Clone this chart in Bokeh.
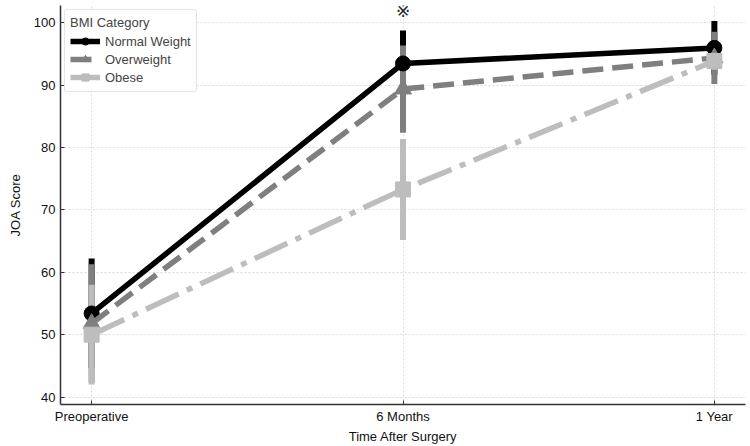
from bokeh.plotting import figure
from bokeh.models import ColumnDataSource, Legend, LegendItem, Range1d, FixedTicker
from bokeh.core.properties import value
from bokeh.embed import file_html
from bokeh.resources import INLINE

timepoints = ["Preoperative", "6 Months", "1 Year"]
x_pos = [0, 1, 2]
normal_mean = [53.4, 93.5, 96.0]
normal_sd = [8.8, 5.3, 4.3]
over_mean = [51.8, 89.4, 94.4]
over_sd = [9.5, 7.0, 4.2]
obese_mean = [50.0, 73.3, 93.9]
obese_sd = [8.0, 8.1, 1.4]
y_ticks = [40, 50, 60, 70, 80, 90, 100]
sig_label = "※"
sig_x = 1
sig_y = 101.9

FONT = "Liberation Sans"

p = figure(width=750, height=446, output_backend="svg", toolbar_location=None,
           x_range=Range1d(-0.1, 2.1), y_range=Range1d(38.8, 102.8),
           min_border_left=60, min_border_right=5, min_border_top=5, min_border_bottom=20)
p.outline_line_color = None
p.background_fill_color = "white"

for ax in (p.xaxis[0], p.yaxis[0]):
    ax.axis_line_color = "#333333"
    ax.axis_line_width = 1.5
    ax.major_tick_line_color = "#333333"
    ax.major_tick_in = 4
    ax.major_tick_out = 0
    ax.minor_tick_line_color = None
    ax.major_label_text_font = FONT
    ax.major_label_text_font_size = "13px"
    ax.major_label_text_color = "#111111"
    ax.axis_label_text_font = FONT
    ax.axis_label_text_font_size = "13px"
    ax.axis_label_text_font_style = "normal"
    ax.axis_label_text_color = "#111111"

p.xaxis.ticker = FixedTicker(ticks=x_pos)
p.xaxis.major_label_overrides = {x: t for x, t in zip(x_pos, timepoints)}
p.xaxis.axis_label = "Time After Surgery"
p.xaxis.major_label_standoff = 4
p.xaxis.axis_label_standoff = 2
p.yaxis.ticker = FixedTicker(ticks=y_ticks)
p.yaxis.axis_label = "JOA Score"
p.yaxis.axis_label_standoff = 8

p.xgrid.ticker = FixedTicker(ticks=x_pos)
for g in (p.xgrid[0], p.ygrid[0]):
    g.grid_line_color = "#dddddd"
    g.grid_line_dash = "2 2"
    g.grid_line_width = 1

series = [
    ("Normal Weight", normal_mean, normal_sd, "#000000", "solid", "circle", 15),
    ("Overweight", over_mean, over_sd, "#7f7f7f", "21 9", "triangle", 17),
    ("Obese", obese_mean, obese_sd, "#bdbdbd", "36 9 6 9", "square", 15),
]

# error bars first (below all lines)
for name, m, s, col, dash, marker, msize in series:
    src = ColumnDataSource(dict(x=x_pos, lo=[a - b for a, b in zip(m, s)], hi=[a + b for a, b in zip(m, s)]))
    p.segment(x0="x", y0="lo", x1="x", y1="hi", source=src, line_color=col, line_width=6)

items = []
for name, m, s, col, dash, marker, msize in series:
    src = ColumnDataSource(dict(x=x_pos, y=m))
    ln = p.line("x", "y", source=src, line_color=col, line_width=5.5, line_dash=dash)
    sc = p.scatter("x", "y", source=src, marker=marker, size=msize, fill_color=col, line_color=col)
    items.append(LegendItem(label=name, renderers=[ln, sc]))

p.text(x=[sig_x], y=[sig_y], text=[sig_label], text_align="center", text_baseline="middle",
       text_font=value("DejaVu Sans"), text_font_size="17px", text_color="#222222")

legend = Legend(items=items, location="top_left", title="BMI Category")
legend.title_text_font = FONT
legend.title_text_font_size = "13px"
legend.title_text_font_style = "normal"
legend.title_standoff = 2
legend.label_text_font = FONT
legend.label_text_font_size = "13px"
legend.label_height = 18
legend.glyph_height = 18
legend.glyph_width = 30
legend.spacing = 0
legend.padding = 5
legend.margin = 4
legend.border_line_color = "#cccccc"
legend.border_radius = 3
legend.background_fill_alpha = 0.9
p.add_layout(legend)

open("out.html", "w").write(file_html(p, INLINE))
